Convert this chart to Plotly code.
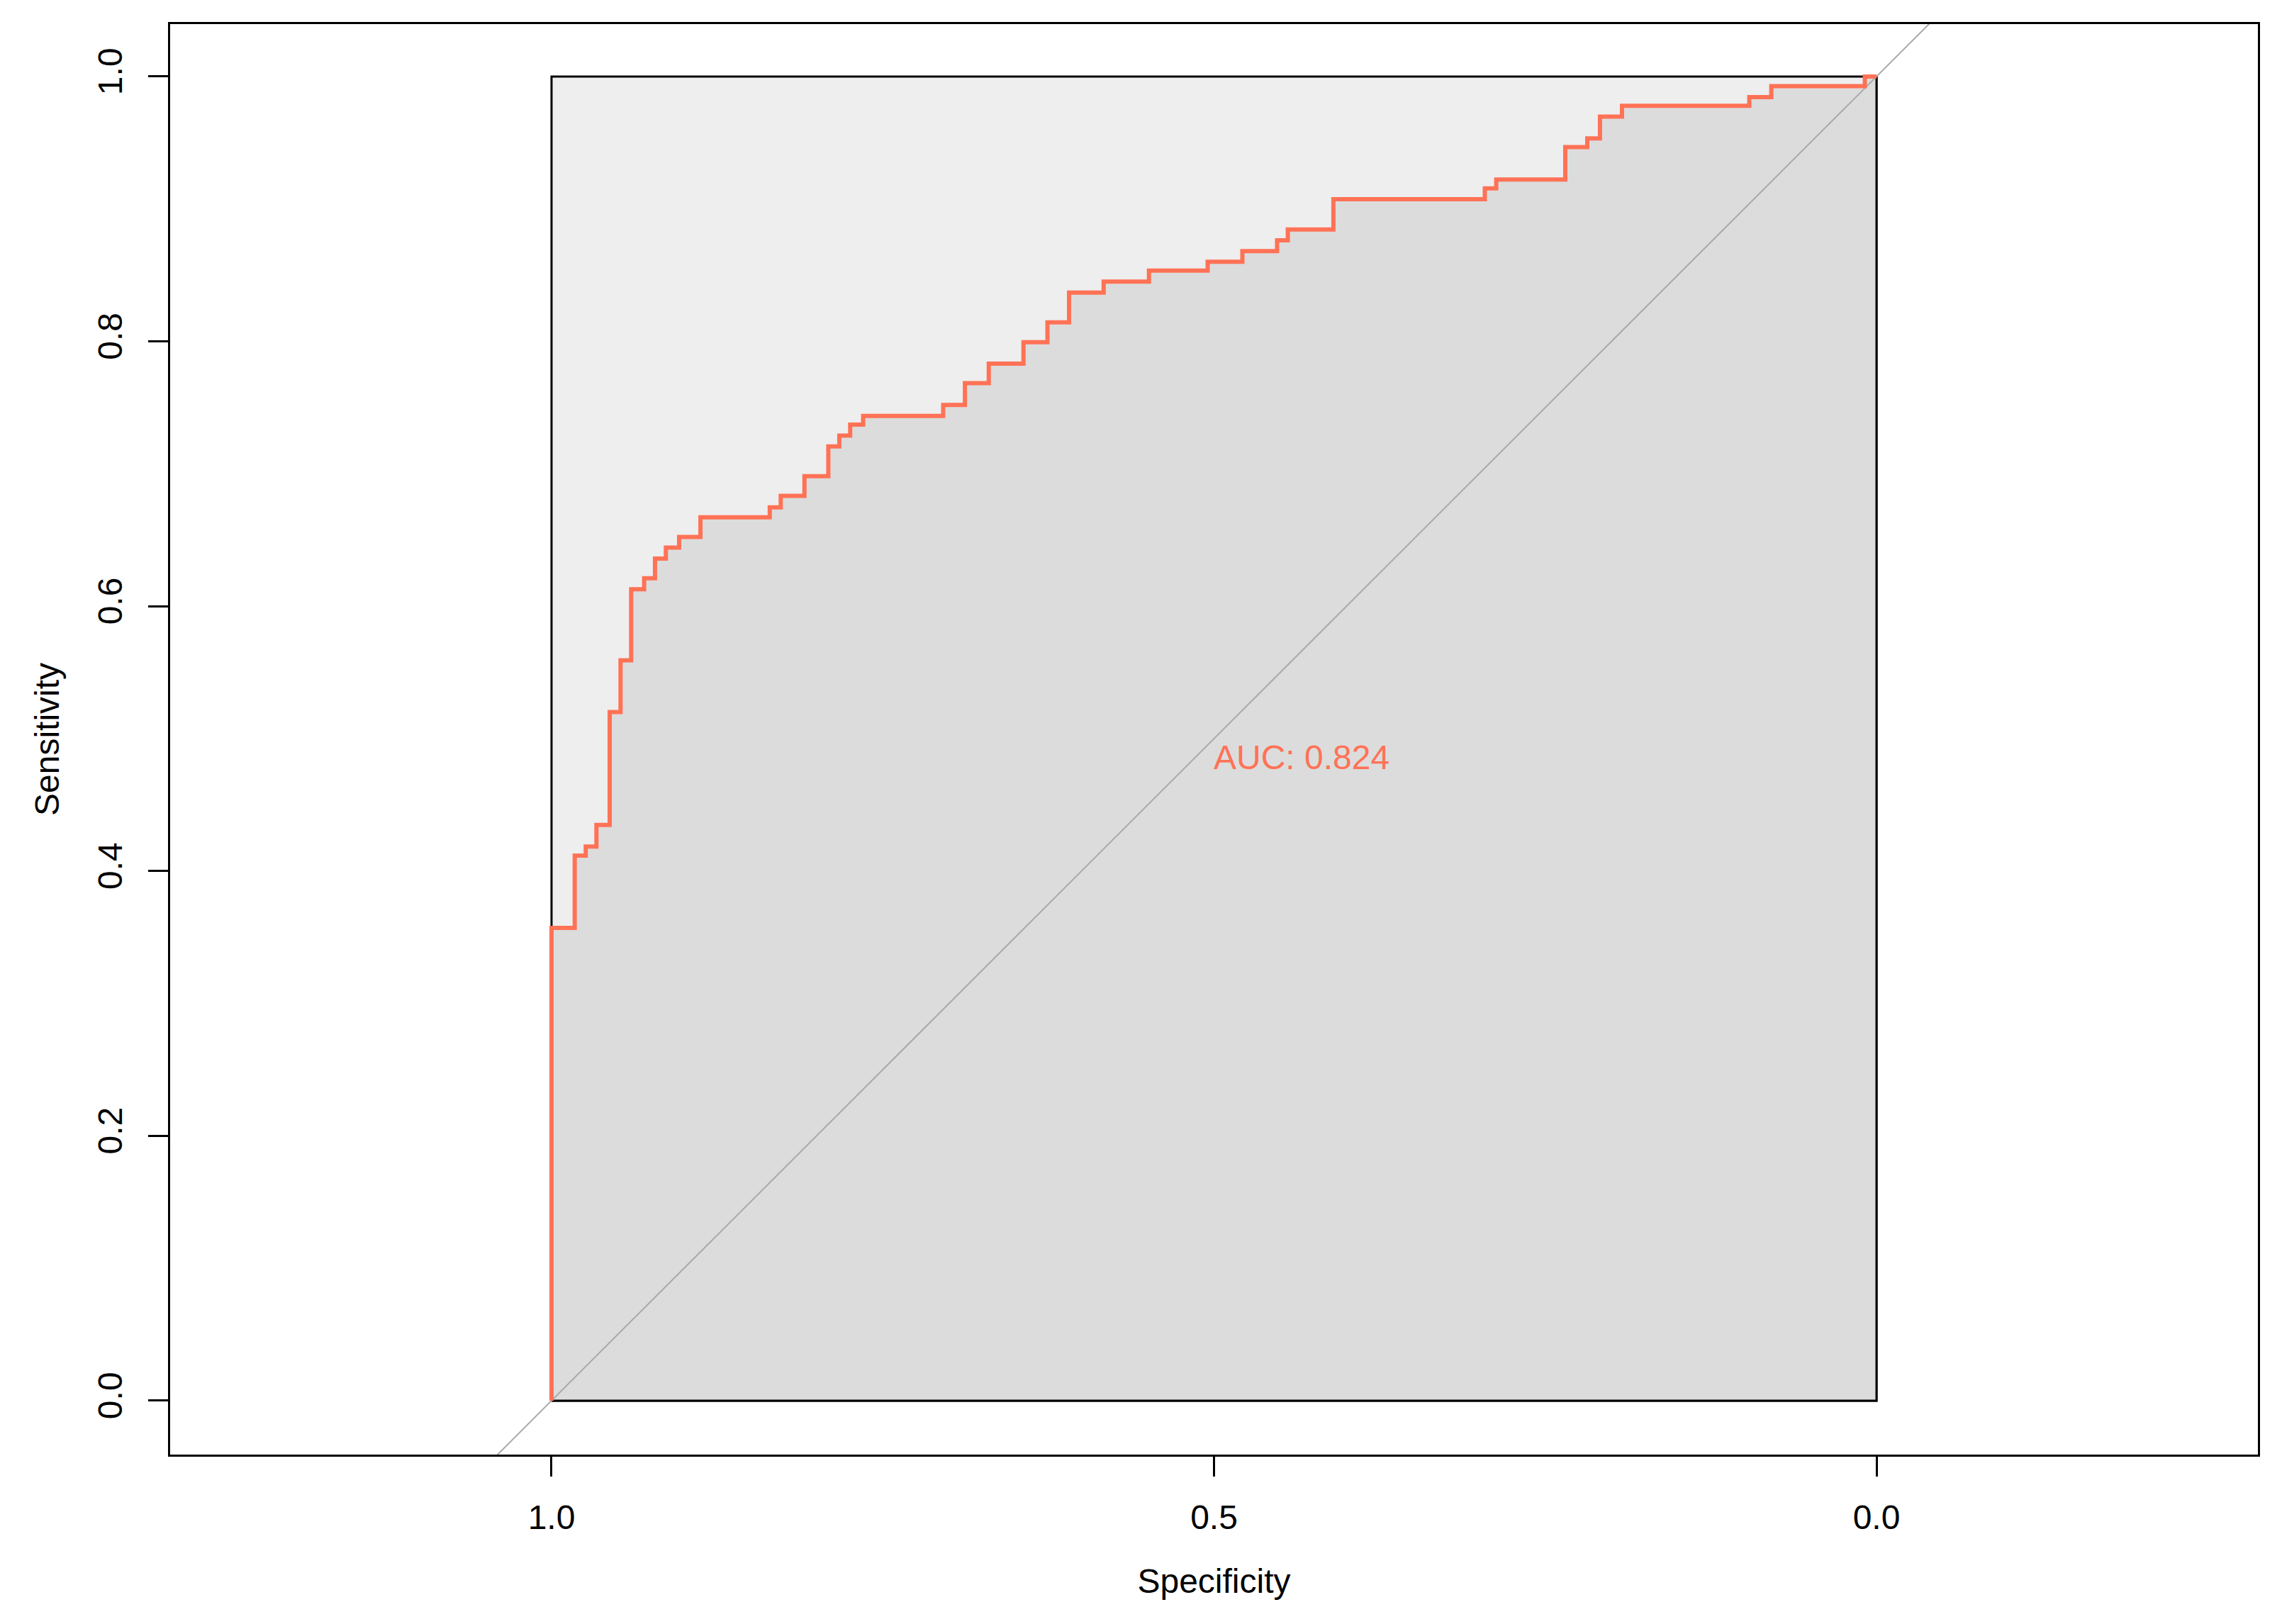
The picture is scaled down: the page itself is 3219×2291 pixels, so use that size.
import plotly.graph_objects as go

# ROC curve corner points (specificity decreasing, sensitivity increasing)
specificity = [1.0, 0.9825, 0.9742, 0.9661, 0.9561, 0.9479, 0.9399, 0.9301, 0.9219, 0.9137,
               0.9037, 0.8876, 0.8353, 0.8270, 0.8091, 0.7911, 0.7828, 0.7746, 0.7648, 0.7044,
               0.6880, 0.6700, 0.6438, 0.6257, 0.6094, 0.5833, 0.5491, 0.5048, 0.4786, 0.4524,
               0.4443, 0.4099, 0.2956, 0.2870, 0.2349, 0.2183, 0.2087, 0.1921, 0.0960, 0.0794,
               0.0088, 0.0]
sensitivity = [0.0, 0.357, 0.4117, 0.4185, 0.4348, 0.520, 0.5591, 0.6128, 0.6211, 0.6359,
               0.6442, 0.6523, 0.6671, 0.6747, 0.6834, 0.6982, 0.7207, 0.7289, 0.7372, 0.7437,
               0.7520, 0.7684, 0.7832, 0.7994, 0.8143, 0.8369, 0.8452, 0.8534, 0.8601, 0.8681,
               0.8763, 0.8845, 0.9074, 0.9156, 0.9222, 0.9467, 0.9533, 0.9697, 0.9779, 0.9845,
               0.9927, 1.0]
auc_label = "AUC: 0.824"
x_tickvals = [1.0, 0.5, 0.0]
x_ticktext = ["1.0", "0.5", "0.0"]
y_tickvals = [0.0, 0.2, 0.4, 0.6, 0.8, 1.0]
y_ticktext = ["0.0", "0.2", "0.4", "0.6", "0.8", "1.0"]
ROC_MIN, ROC_MAX = 0.0, 1.0

CURVE_COL = "#FF7256"
FONT = "Liberation Sans, Arial, sans-serif"

# expand to step path (vertical then horizontal)
sx, sy = [specificity[0]], [sensitivity[0]]
for i in range(1, len(specificity)):
    sx += [specificity[i - 1], specificity[i]]
    sy += [sensitivity[i], sensitivity[i]]

fig = go.Figure()

# max AUC polygon (full square)
fig.add_trace(go.Scatter(
    x=[ROC_MAX, ROC_MIN, ROC_MIN, ROC_MAX, ROC_MAX],
    y=[ROC_MIN, ROC_MIN, ROC_MAX, ROC_MAX, ROC_MIN],
    fill="toself", fillcolor="#EEEEEE", mode="lines",
    line=dict(color="black", width=3), hoverinfo="skip", showlegend=False))

# AUC polygon
fig.add_trace(go.Scatter(
    x=sx + [ROC_MIN, ROC_MAX], y=sy + [ROC_MIN, ROC_MIN],
    fill="toself", fillcolor="#DCDCDC", mode="none",
    hoverinfo="skip", showlegend=False))

# bottom/right border redraw over fill
fig.add_trace(go.Scatter(
    x=[ROC_MAX, ROC_MIN, ROC_MIN], y=[ROC_MIN, ROC_MIN, ROC_MAX],
    mode="lines", line=dict(color="black", width=3), hoverinfo="skip", showlegend=False))

# identity line
fig.add_trace(go.Scatter(
    x=[2.0, -1.0], y=[1 - 2.0, 1 - (-1.0)], mode="lines",
    line=dict(color="#A9A9A9", width=2), hoverinfo="skip", showlegend=False))

# ROC curve
fig.add_trace(go.Scatter(
    x=sx, y=sy, mode="lines", line=dict(color=CURVE_COL, width=6),
    showlegend=False))

fig.add_annotation(x=0.5, y=0.5, xref="x", yref="y", text=auc_label, showarrow=False,
                   xanchor="left", yanchor="top", yshift=2, xshift=-3,
                   font=dict(family=FONT, size=48, color=CURVE_COL))

axis_common = dict(showline=True, mirror=True, linecolor="black", linewidth=3,
                   ticks="outside", ticklen=28, tickwidth=3, tickcolor="black",
                   showgrid=False, zeroline=False, automargin=False,
                   tickfont=dict(family=FONT, size=48, color="black"))

fig.update_layout(
    width=3211, height=2283,
    margin=dict(l=232, r=34, t=26, b=239, autoexpand=False),
    paper_bgcolor="white", plot_bgcolor="white",
    xaxis=dict(range=[1.28785, -0.28785], tickvals=x_tickvals, ticktext=x_ticktext,
               ticklabelstandoff=16,
               title=dict(text="Specificity", font=dict(family=FONT, size=48, color="black"),
                          standoff=48),
               **axis_common),
    yaxis=dict(range=[-0.0407, 1.0396], tickvals=y_tickvals, ticktext=y_ticktext,
               tickangle=-90, ticklabelstandoff=18,
               title=dict(text="Sensitivity", font=dict(family=FONT, size=48, color="black"),
                          standoff=30),
               **axis_common),
)

fig.write_html("out.html")
